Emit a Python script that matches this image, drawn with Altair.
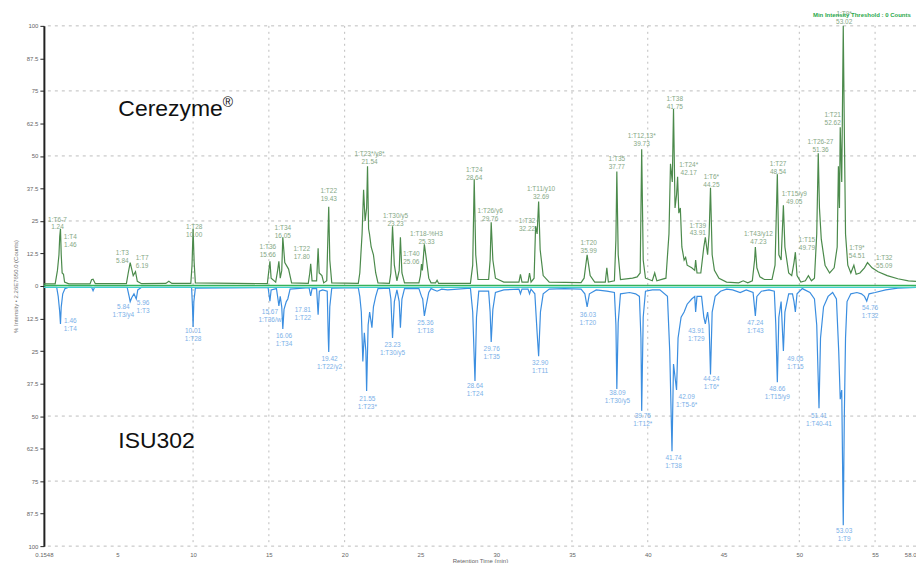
import altair as alt
import pandas as pd

# ---------------- data ----------------
green_t = [0.16, 0.9, 1.05, 1.15, 1.2, 1.25, 1.3, 1.36, 1.45, 1.52, 1.8, 3.2, 3.3, 3.4, 3.55, 5.6, 5.72, 5.85, 5.95, 6.05,
           6.2, 6.32, 6.6, 8.2, 8.4, 8.6, 9.85, 9.93, 10.0, 10.07, 10.15, 14.9, 15.0, 15.07, 15.15, 15.45, 15.58, 15.66,
           15.75, 15.85, 15.92, 16.05, 16.3, 16.5, 17.6, 17.7, 17.76, 17.85, 18.15, 18.25, 18.32, 18.5, 18.62, 18.82,
           18.9, 18.95, 19.02, 19.15, 20.9, 21.0, 21.15, 21.25, 21.35, 21.45, 21.51, 21.58, 21.64, 21.75, 21.9, 22.05,
           22.2, 22.95, 23.05, 23.16, 23.28, 23.45, 23.6, 23.68, 23.78, 23.95, 24.9, 25.0, 25.07, 25.13, 25.26, 25.4,
           25.55, 25.7, 26.0, 26.1, 26.2, 28.3, 28.45, 28.55, 28.65, 28.8, 29.5, 29.6, 29.67, 29.78, 29.95, 30.5, 31.5,
           31.6, 31.7, 32.1, 32.2, 32.3, 32.5, 32.6, 32.7, 32.8, 32.9, 33.1, 33.5, 35.6, 35.8, 36.0, 36.2, 36.5, 37.2,
           37.3, 37.4, 37.8, 37.9, 37.96, 38.05, 38.2, 39.0, 39.3, 39.5, 39.6, 39.7, 39.85, 40.3, 40.46, 40.6, 41.2,
           41.4, 41.5, 41.62, 41.7, 41.8, 41.9, 41.97, 42.05, 42.15, 42.25, 42.4, 42.5, 42.6, 42.9, 43.1, 43.16, 43.25,
           43.5, 43.7, 43.8, 43.95, 44.05, 44.14, 44.25, 44.4, 44.7, 45.2, 46.0, 46.3, 46.6, 46.9, 47.05, 47.1, 47.2,
           47.4, 47.7, 48.2, 48.4, 48.55, 48.65, 48.8, 48.95, 49.05, 49.3, 49.5, 49.65, 49.74, 49.85, 50.1, 50.4, 50.6,
           50.8, 51.0, 51.15, 51.25, 51.33, 51.45, 51.7, 52.0, 52.3, 52.5, 52.58, 52.65, 52.7, 52.8, 52.9, 52.98, 53.05,
           53.2, 53.4, 53.6, 53.75, 54.0, 54.3, 54.5, 54.8, 55.2, 55.8, 56.5, 57.2, 57.7]
green_v = [0.8, 0.8, 6, 12, 19, 22, 12, 5, 4.5, 1.5, 0.8, 0.8, 2.4, 2.6, 0.9, 0.9, 5, 9, 6.5, 4,
           5.5, 1.8, 0.9, 1.0, 1.8, 1.0, 1.0, 8, 22, 9, 1.2, 0.9, 6, 9.5, 3, 1.5, 6, 9.5,
           3, 6, 18.7, 9, 6.5, 1.2, 1.0, 5, 8.5, 2, 2, 14.5, 5, 4, 1.2, 2,
           20, 30.5, 10, 1.2, 1.0, 5, 20, 37, 25, 30, 46, 22, 20, 15, 12, 5,
           1.2, 1.0, 5, 23, 8, 2, 6, 18.7, 5, 1.2, 1.2, 4, 8.4, 6, 16, 10,
           3, 1.2, 1.2, 2.2, 1.0, 1.0, 8, 41, 12, 2.5, 2.5, 10, 24.5, 10, 3, 1.5, 1.5,
           4.5, 1.5, 1.5, 5, 1.5, 3, 23, 20, 32.5, 14, 4, 1.5, 1.3, 3, 12, 4, 1.5, 1.5,
           7, 1.5, 2, 18, 44, 12, 2.5, 3, 3.5, 5, 52.6, 10, 3, 2, 5, 2, 3,
           20, 47, 40, 68, 30, 35, 42, 28, 30, 15, 10, 11, 8, 7, 6, 10, 5,
           5, 15, 18.7, 12, 20, 37.8, 12, 6, 3, 1.5, 1.2, 2, 1.2, 2, 10, 15, 7,
           3.5, 2.5, 2.5, 8, 43, 12, 10, 31, 15, 5, 4, 9, 13, 4, 1.5, 2, 4,
           2, 3, 20, 51, 30, 18, 8, 5, 7, 15, 46, 30, 61, 40, 100, 55, 20,
           8, 5, 8, 4.5, 5, 7, 9, 7, 5.5, 4, 2.8, 2, 1.8]

blue_t = [0.16, 1.0, 1.1, 1.2, 1.25, 1.3, 1.4, 1.55, 1.8, 3.3, 3.4, 3.5, 5.65, 5.78, 5.85, 5.95, 6.1, 6.25, 6.35, 6.6,
          9.9, 9.96, 10.0, 10.05, 10.15, 14.95, 15.07, 15.15, 15.5, 15.6, 15.66, 15.75, 15.85, 15.92, 16.0, 16.15,
          16.25, 16.4, 17.65, 17.76, 17.85, 18.15, 18.25, 18.33, 18.55, 18.85, 18.92, 18.95, 19.02, 19.15, 20.9, 21.0,
          21.1, 21.2, 21.3, 21.4, 21.45, 21.55, 21.65, 21.8, 21.9, 22.05, 22.2, 22.95, 23.05, 23.16, 23.28, 23.45,
          23.6, 23.68, 23.78, 23.95, 24.9, 25.07, 25.15, 25.26, 25.4, 25.55, 25.7, 26.1, 26.4, 26.8, 28.3, 28.45, 28.6,
          28.7, 28.85, 29.5, 29.6, 29.67, 29.78, 29.95, 30.5, 31.5, 31.6, 31.7, 32.1, 32.2, 32.3, 32.55, 32.7, 32.8,
          32.92, 33.1, 33.5, 34.5, 35.6, 35.85, 36.0, 36.15, 36.6, 37.3, 37.8, 37.9, 37.96, 38.05, 38.2, 38.8, 39.2,
          39.45, 39.55, 39.6, 39.7, 39.85, 40.3, 40.8, 41.3, 41.45, 41.6, 41.7, 41.8, 41.9, 42.0, 42.2, 42.4, 42.6,
          42.9, 43.1, 43.16, 43.25, 43.55, 43.7, 43.8, 43.95, 44.05, 44.14, 44.25, 44.45, 44.8, 45.2, 45.6, 46.1, 46.5,
          46.95, 47.1, 47.2, 47.5, 48.0, 48.35, 48.45, 48.55, 48.65, 48.8, 48.95, 49.05, 49.3, 49.55, 49.65, 49.74,
          49.85, 50.2, 50.7, 51.0, 51.15, 51.3, 51.4, 51.6, 51.9, 52.2, 52.45, 52.6, 52.7, 52.8, 52.9, 52.97, 53.05,
          53.15, 53.4, 53.8, 54.1, 54.3, 54.45, 54.6, 55.0, 55.7, 56.5, 57.7]
blue_v = [-0.5, -0.5, -4, -10, -14.6, -8, -3, -1, -0.5, -0.5, -1.8, -0.5, -0.5, -4, -6, -4.5, -3, -5, -1.5, -0.5,
          -0.5, -8, -15.8, -6, -0.8, -0.6, -5.8, -1.5, -1, -5, -7.7, -4, -8, -16.5, -9, -6,
          -5, -1.2, -0.6, -3.8, -1, -1, -11, -2, -1.5, -2, -20, -25.4, -8, -0.8, -0.6, -4,
          -10, -29, -18, -25, -40.4, -15, -10, -16, -8, -4, -1, -0.8, -5, -20, -6, -1.5,
          -6, -16, -5, -1, -1, -4, -5, -11.5, -7, -2.5, -1, -2, -1.2, -1.5, -0.8, -10, -36.5,
          -12, -2, -2, -10, -21.5, -9, -2.5, -1.5, -1.2, -3, -1.2, -1.2, -3, -1.2, -3, -18, -27,
          -10, -3, -1.2, -1, -1.2, -3, -8, -3, -1.5, -2, -2.5, -15, -39.6, -14, -3, -2.5, -3,
          -4, -20, -48, -12, -2, -1.5, -1.5, -4, -25, -63.5, -30, -35, -40, -20, -12, -10, -7,
          -5, -4, -10, -4, -4, -12, -14.6, -10, -15, -34, -10, -4, -2, -1.2, -1.5, -2.5, -1.5,
          -2.5, -11.5, -4, -2, -1.5, -2, -15, -37, -12, -6, -25, -10, -3, -3, -6, -10,
          -3, -1, -2.5, -5, -15, -47, -20, -8, -4, -2.5, -5, -25, -43.5, -40, -92, -50, -20,
          -6, -3, -2.5, -3, -4, -5.8, -3, -2.5, -1.5, -0.8, -0.5]

green_lab_t = [1.05, 1.9, 5.33, 6.64, 10.07, 14.93, 15.92, 17.17, 18.95, 21.64, 23.36, 24.4, 25.4, 28.55, 29.6,
               32.04, 32.96, 36.1, 37.96, 39.6, 41.78, 42.7, 43.3, 44.2, 47.3, 48.6, 49.67, 50.5, 51.4, 52.2,
               52.96, 53.8, 55.6]
green_lab_v = [26.7, 19.8, 13.7, 11.8, 24.0, 16.0, 23.3, 15.3, 37.8, 51.9, 28.2, 13.4, 21.0, 45.8, 30.0,
               26.3, 38.5, 17.6, 50.0, 58.8, 72.9, 47.7, 24.4, 43.1, 21.0, 48.1, 36.6, 18.7, 56.5, 66.8,
               105.8, 15.6, 11.8]
green_lab_txt = ["1:T6-7\n1.24", "1:T4\n1.46", "1:T3\n5.84", "1:T7\n6.19", "1:T28\n10.00", "1:T36\n15.66",
                 "1:T34\n16.05", "1:T22\n17.80", "1:T22\n19.43", "1:T23*/y8*\n21.54", "1:T30/y5\n23.23",
                 "1:T40\n25.06", "1:T18-%H3\n25.33", "1:T24\n28.64", "1:T26/y6\n29.76", "1:T32\n32.22",
                 "1:T11/y10\n32.69", "1:T20\n35.99", "1:T35\n37.77", "1:T12,13*\n39.73", "1:T38\n41.75",
                 "1:T24*\n42.17", "1:T39\n43.91", "1:T6*\n44.25", "1:T43/y12\n47.23", "1:T27\n48.54",
                 "1:T15/y9\n49.05", "1:T15\n49.79", "1:T26-27\n51.36", "1:T21\n52.62", "1:T9*\n53.02",
                 "1:T9*\n54.51", "1:T32\n55.09"]

blue_lab_t = [1.9, 5.4, 6.7, 10.0, 15.07, 16.0, 17.24, 19.0, 21.5, 23.16, 25.33, 28.6, 29.7, 32.9, 36.05, 38.0,
              39.67, 41.7, 42.57, 43.2, 44.2, 47.1, 48.55, 49.74, 51.3, 52.96, 54.67]
blue_lab_v = [-12.3, -6.9, -5.4, -16.2, -8.8, -18.1, -8.1, -26.9, -42.3, -21.5, -13.1, -37.3, -23.1, -28.5, -10.0,
              -40.0, -48.8, -65.0, -41.5, -16.2, -34.6, -13.1, -38.5, -26.9, -48.8, -93.0, -7.3]
blue_lab_txt = ["1.46\n1:T4", "5.84\n1:T3/y4", "5.96\n1:T3", "10.01\n1:T28", "15.67\n1:T36/w", "16.06\n1:T34",
                "17.81\n1:T22", "19.42\n1:T22/y2", "21.55\n1:T23*", "23.23\n1:T30/y5", "25.36\n1:T18",
                "28.64\n1:T24", "29.76\n1:T35", "32.90\n1:T11", "36.03\n1:T20", "38.09\n1:T30/y5",
                "39.75\n1:T12*", "41.74\n1:T38", "42.09\n1:T5-6*", "43.91\n1:T29", "44.24\n1:T6*",
                "47.24\n1:T43", "48.66\n1:T15/y9", "49.05\n1:T15", "51.41\n1:T40-41", "53.03\n1:T9",
                "54.76\n1:T32"]

y_ticks = [-100, -87.5, -75, -62.5, -50, -37.5, -25, -12.5, 0, 12.5, 25, 37.5, 50, 62.5, 75, 87.5, 100]
x_tick_values = [0.1548, 5, 10, 15, 20, 25, 30, 35, 40, 45, 50, 55, 57.7]
x_tick_labels = ["0.1548", "5", "10", "15", "20", "25", "30", "35", "40", "45", "50", "55", "58.0"]
y_grid = [100, 75, 50, 25, -50, -75, -100]
x_grid = [10, 15, 20, 35, 40, 50, 55]

FONT = "Liberation Sans"

# ---------------- build ----------------
green = pd.DataFrame({"t": green_t, "v": green_v})
blue = pd.DataFrame({"t": blue_t, "v": blue_v})
glab = pd.DataFrame({"t": green_lab_t, "v": green_lab_v, "txt": green_lab_txt})
blab = pd.DataFrame({"t": blue_lab_t, "v": blue_lab_v, "txt": blue_lab_txt})

label_expr = ""
for val, lab in zip(x_tick_values, x_tick_labels):
    label_expr += f"abs(datum.value - {val}) < 0.01 ? '{lab}' : "
label_expr += "datum.label"

xscale = alt.Scale(domain=[0.1548, 57.7], nice=False, zero=False)
yscale = alt.Scale(domain=[-100, 100], nice=False, zero=False)

X = alt.X("t:Q", scale=xscale,
          axis=alt.Axis(values=x_tick_values, labelExpr=label_expr, title="Retention Time (min)",
                        grid=False, domain=False, ticks=False, labelFontSize=6, labelColor="#666666",
                        labelFont=FONT, titleFont=FONT, titleFontSize=6, titleFontWeight="normal",
                        titleColor="#666666", labelPadding=5, titlePadding=0, labelFlush=False,
                        labelAlign={"condition": {"test": "datum.value > 57", "value": "right"},
                                    "value": "center"}))
Y = alt.Y("v:Q", scale=yscale,
          axis=alt.Axis(values=y_ticks, labelExpr="'' + abs(datum.value)",
                        title="% Intensity • 2.26E7650.0 (Counts)", grid=False,
                        domainColor="#222222", domainWidth=2, tickColor="#222222", tickSize=4,
                        labelFontSize=6, labelColor="#666666", labelFont=FONT, titleFont=FONT,
                        titleFontSize=6, titleFontWeight="normal", titleColor="#777777",
                        labelPadding=2, titlePadding=8, labelFlush=False))

ygrid = alt.Chart(pd.DataFrame({"v": y_grid})).mark_rule(
    color="#bdbdbd", strokeDash=[3, 4], strokeWidth=1).encode(y=Y)
xgrid = alt.Chart(pd.DataFrame({"t": x_grid})).mark_rule(
    color="#bdbdbd", strokeDash=[2, 4], strokeWidth=1).encode(x=X)

blue_line = alt.Chart(blue).mark_line(color="#3b8ee0", strokeWidth=1.2).encode(x=X, y=Y, order="t:Q")
green_line = alt.Chart(green).mark_line(color="#4b8a4b", strokeWidth=1.2).encode(x=X, y=Y, order="t:Q")

zero_cyan = alt.Chart(pd.DataFrame({"v": [-0.5]})).mark_rule(color="#3fd0d0", strokeWidth=1.2).encode(y=Y)
zero_green = alt.Chart(pd.DataFrame({"v": [0.2]})).mark_rule(color="#35b35a", strokeWidth=1.5).encode(y=Y)

glab_text = alt.Chart(glab).mark_text(
    fontSize=6.5, font=FONT, color="#86a886", align="center", baseline="top", lineBreak="\n", lineHeight=8
).encode(x=X, y=Y, text="txt:N")
blab_text = alt.Chart(blab).mark_text(
    fontSize=6.5, font=FONT, color="#7bb0e8", align="center", baseline="top", lineBreak="\n", lineHeight=8
).encode(x=X, y=Y, text="txt:N")

big = pd.DataFrame({"t": [5.07, 5.07], "v": [65.3, -62.3], "txt": ["Cerezyme", "ISU302"]})
big_text = alt.Chart(big).mark_text(
    fontSize=23, font=FONT, color="#111111", align="left", baseline="alphabetic"
).encode(x=X, y=Y, text="txt:N")
reg = alt.Chart(pd.DataFrame({"t": [11.95], "v": [69.0], "txt": ["®"]})).mark_text(
    fontSize=14, font=FONT, color="#111111", align="left", baseline="alphabetic"
).encode(x=X, y=Y, text="txt:N")
thresh = alt.Chart(pd.DataFrame({"t": [50.9], "v": [104.3], "txt": ["Min Intensity Threshold : 0 Counts"]})).mark_text(
    fontSize=6, font=FONT, fontWeight="bold", color="#2aa84a", align="left", baseline="middle"
).encode(x=X, y=Y, text="txt:N")

chart = alt.layer(
    ygrid, xgrid, blue_line, green_line, zero_cyan, zero_green,
    glab_text, blab_text, big_text, reg, thresh
).properties(
    width=875, height=522,
    autosize=alt.AutoSizeParams(type="none"),
    padding={"left": 36, "top": 17, "right": 0, "bottom": 16},
    background="white",
).configure_view(stroke=None)

chart.save("out.html", embed_options={"renderer": "svg", "actions": False})
